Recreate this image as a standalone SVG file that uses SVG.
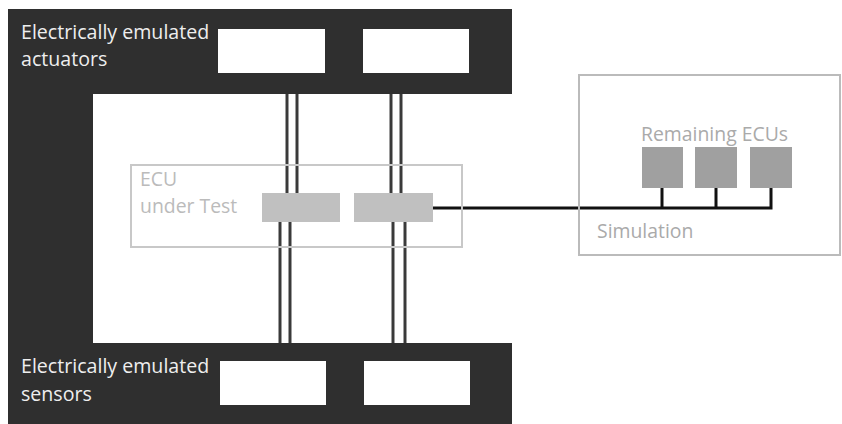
<svg xmlns="http://www.w3.org/2000/svg" width="842" height="424" viewBox="0 0 842 424">
<style>
.lbl{font-family:"Open Sans","Liberation Sans",sans-serif;font-size:19.6px}
.dark{fill:#eeeeee}
.lite{fill:#bbbbbb;font-size:19.4px}
.wbox{fill:#ffffff}
.blk{fill:#c0c0c0}
.ecu{fill:#a0a0a0}
.wire{stroke:#3a3a3a;stroke-width:3;fill:none}
.bus{stroke:#111111;stroke-width:3;fill:none}
</style>
<rect width="842" height="424" fill="#ffffff"/>
<g id="frame">
<path d="M8 9 H512 V94 H93 V343 H512 V424 H8 Z" fill="#2f2f2f"/>
</g>
<g id="actuators">
<text class="lbl dark" x="21" y="39">Electrically emulated</text>
<text class="lbl dark" x="21" y="66">actuators</text>
<rect class="wbox" x="218" y="29" width="107" height="44"/>
<rect class="wbox" x="363" y="29" width="106" height="44"/>
</g>
<g id="sensors">
<text class="lbl dark" x="21" y="373">Electrically emulated</text>
<text class="lbl dark" x="21" y="401">sensors</text>
<rect class="wbox" x="220" y="361" width="106" height="44"/>
<rect class="wbox" x="364" y="361" width="106" height="44"/>
</g>
<g id="connectors">
<line class="wire" x1="287" y1="94" x2="287" y2="193"/>
<line class="wire" x1="297" y1="94" x2="297" y2="193"/>
<line class="wire" x1="280" y1="222" x2="280" y2="343"/>
<line class="wire" x1="290" y1="222" x2="290" y2="343"/>
<line class="wire" x1="391" y1="94" x2="391" y2="193"/>
<line class="wire" x1="401" y1="94" x2="401" y2="193"/>
<line class="wire" x1="393" y1="222" x2="393" y2="343"/>
<line class="wire" x1="405" y1="222" x2="405" y2="343"/>
<path class="bus" d="M433 208 H771 V188"/>
<line class="bus" x1="662" y1="188" x2="662" y2="208"/>
<line class="bus" x1="716" y1="188" x2="716" y2="208"/>
</g>
<g id="ecu-under-test">
<rect x="131" y="165" width="331" height="82" fill="none" stroke="#c8c8c8" stroke-width="2"/>
<text class="lbl lite" x="140" y="186">ECU</text>
<text class="lbl lite" x="140" y="213">under Test</text>
<rect class="blk" x="262" y="193" width="78" height="29"/>
<rect class="blk" x="354" y="193" width="79" height="29"/>
</g>
<g id="simulation">
<rect x="579" y="75" width="261" height="180" fill="none" stroke="#bbbbbb" stroke-width="2"/>
<text class="lbl lite" x="641" y="141" style="fill:#aaaaaa">Remaining ECUs</text>
<text class="lbl lite" x="597" y="238" style="fill:#aaaaaa">Simulation</text>
<rect class="ecu" x="642" y="147" width="41" height="41"/>
<rect class="ecu" x="695" y="147" width="42" height="41"/>
<rect class="ecu" x="750" y="147" width="42" height="41"/>
</g>
</svg>
